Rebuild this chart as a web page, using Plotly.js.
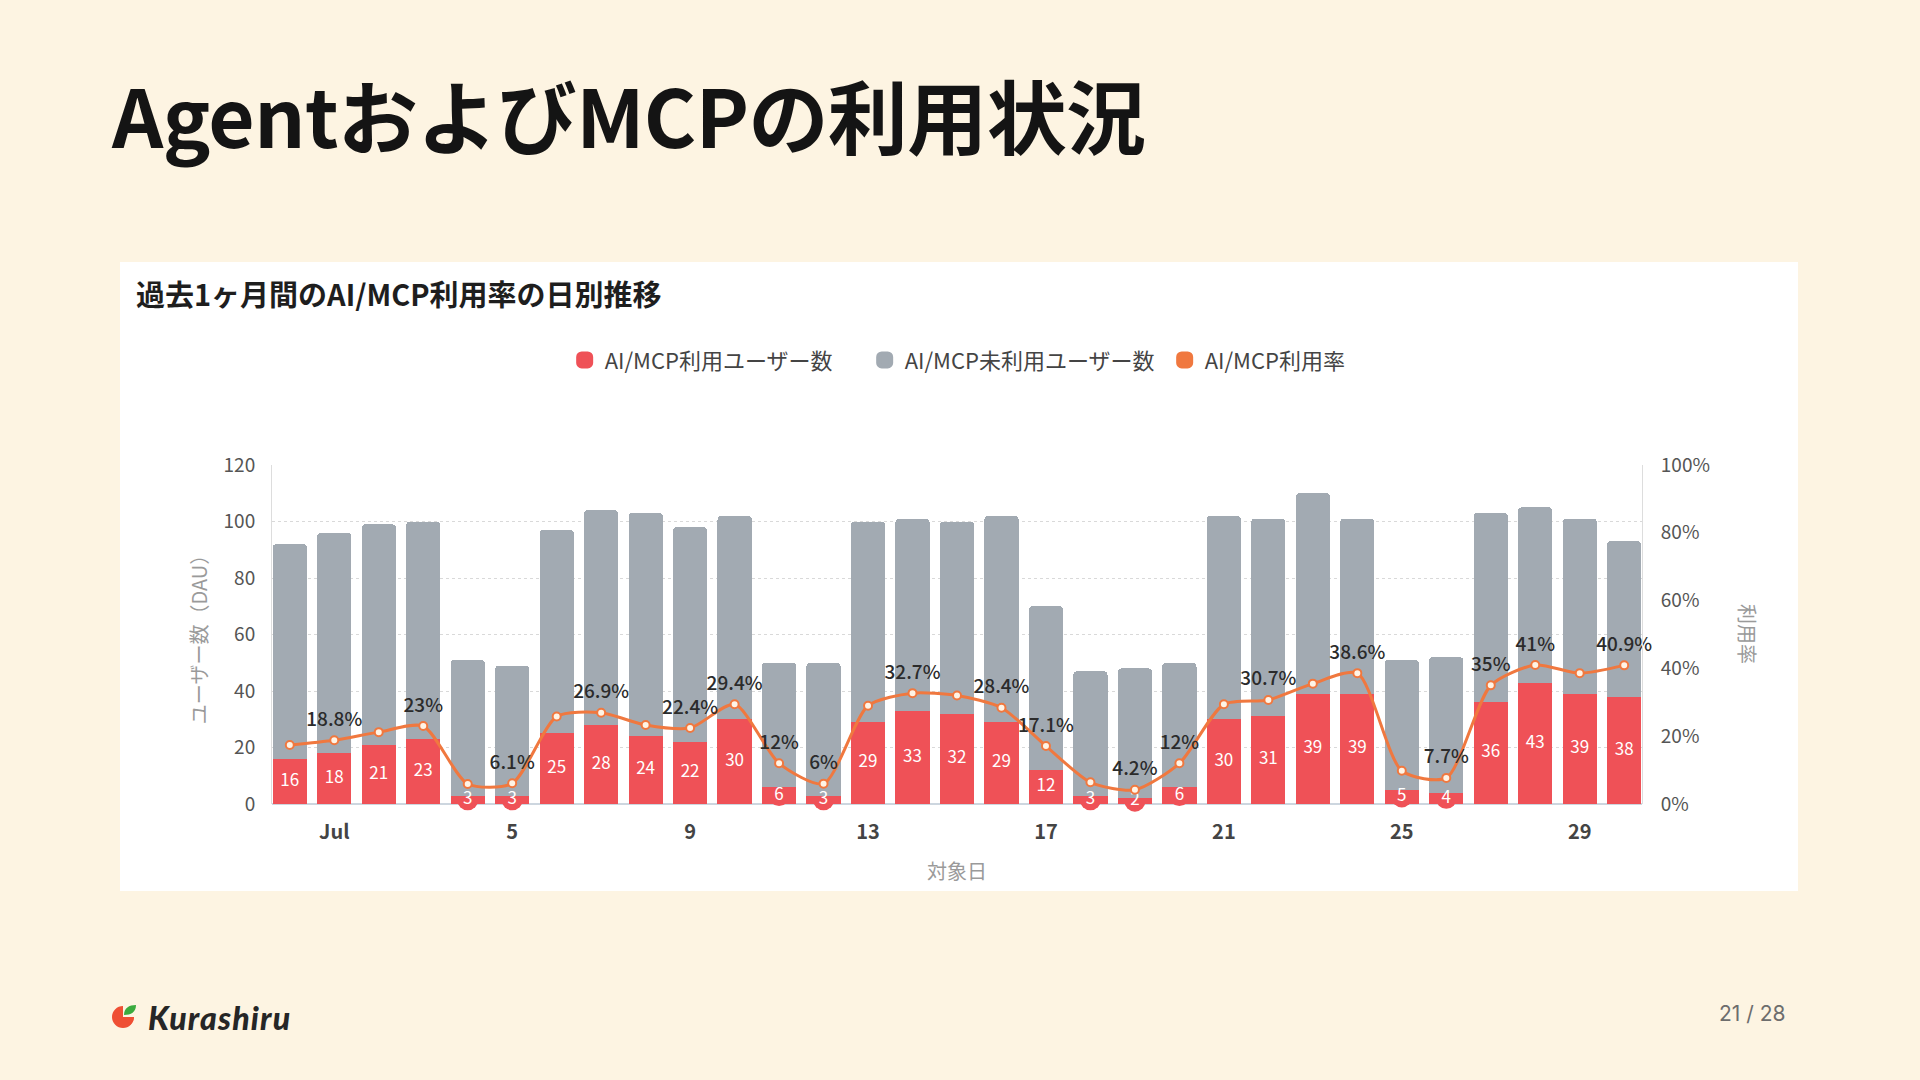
<!DOCTYPE html>
<html lang="ja">
<head>
<meta charset="utf-8">
<title>AgentおよびMCPの利用状況</title>
<script src="https://cdn.plot.ly/plotly-3.0.1.min.js"></script>
<style>
  html, body { margin: 0; padding: 0; }
  body { background: #fdf4e2; font-family: "Noto Sans CJK JP", "Noto Sans", sans-serif; }
  #slide { position: relative; width: 1920px; height: 1080px; overflow: hidden; background: #fdf4e2; }
  #heading {
    position: absolute; left: 112px; top: 73px; margin: 0;
    font-size: 80px; line-height: 80px; font-weight: 700; color: #141414;
    letter-spacing: -0.6px; white-space: nowrap;
  }
  #card { position: absolute; left: 120px; top: 262px; width: 1678px; height: 629px; background: #fff; }
  #chart { width: 1678px; height: 629px; }
  #logo { position: absolute; left: 110px; top: 1000px; height: 34px; display: flex; align-items: center; }
  #logo span {
    margin-left: 11px; font-family: Lato, sans-serif; font-weight: 900; font-style: italic;
    font-size: 32px; color: #262626; letter-spacing: 1.2px;
  }
  #page { position: absolute; left: 1719px; top: 1001px; font-family: Inter, sans-serif; font-size: 21px; color: #6d6d6d; }
</style>
</head>
<body>
<div id="slide">
  <h1 id="heading">AgentおよびMCPの利用状況</h1>
  <div id="card"><div id="chart"></div></div>
  <div id="logo">
    <svg width="27" height="28" viewBox="0 0 27 28">
      <path d="M13 3 A11 11 0 1 0 24 14 L13 14 Z" fill="#ef4f34"/>
      <path d="M13 14 L24 14 A11 11 0 0 1 20 22 Z" fill="#ef4f34" opacity="0.85"/>
      <path d="M14 12 C14 5 19 2 26 2 C26 9 21 12 14 12 Z" fill="#3bab3e"/>
    </svg>
    <span>Kurashiru</span>
  </div>
  <div id="page">21 / 28</div>
</div>
<script>
// 対象日 (6/30 〜 7/30)
const dates = [
  '2025-06-30', '2025-07-01', '2025-07-02', '2025-07-03', '2025-07-04', '2025-07-05',
  '2025-07-06', '2025-07-07', '2025-07-08', '2025-07-09', '2025-07-10', '2025-07-11',
  '2025-07-12', '2025-07-13', '2025-07-14', '2025-07-15', '2025-07-16', '2025-07-17',
  '2025-07-18', '2025-07-19', '2025-07-20', '2025-07-21', '2025-07-22', '2025-07-23',
  '2025-07-24', '2025-07-25', '2025-07-26', '2025-07-27', '2025-07-28', '2025-07-29',
  '2025-07-30'
]

// AI/MCP利用ユーザー数
const usedUsers = [16, 18, 21, 23, 3, 3, 25, 28, 24, 22, 30, 6, 3, 29, 33, 32,
  29, 12, 3, 2, 6, 30, 31, 39, 39, 5, 4, 36, 43, 39, 38]

// AI/MCP未利用ユーザー数
const unusedUsers = [76, 78, 78, 77, 48, 46, 72, 76, 79, 76, 72, 44, 47, 71, 68, 68,
  73, 58, 44, 46, 44, 72, 70, 71, 62, 46, 48, 67, 62, 62, 55]

// AI/MCP利用率 (%)
const usageRate = [17.4, 18.8, 21.2, 23, 5.9, 6.1, 25.8, 26.9, 23.3, 22.4, 29.4, 12, 6, 29,
  32.7, 32, 28.4, 17.1, 6.4, 4.2, 12, 29.4, 30.7, 35.5, 38.6, 9.8, 7.7, 35, 41, 38.6, 40.9]

// 表示されている利用率ラベル
const rateLabels = ['', '18.8%', '', '23%', '', '6.1%', '', '26.9%', '', '22.4%', '29.4%',
  '12%', '6%', '', '32.7%', '', '28.4%', '17.1%', '', '4.2%', '12%', '', '30.7%', '',
  '38.6%', '', '7.7%', '35%', '41%', '', '40.9%']

const xTickVals = ['2025-07-01', '2025-07-05', '2025-07-09', '2025-07-13',
  '2025-07-17', '2025-07-21', '2025-07-25', '2025-07-29']
const xTickText = ['Jul', '5', '9', '13', '17', '21', '25', '29']

const seriesNames = ['AI/MCP利用ユーザー数', 'AI/MCP未利用ユーザー数', 'AI/MCP利用率']

const RED = '#ef5157'
const GRAY = '#a2aab2'
const ORANGE = '#f0783f'
const seriesColors = [RED, GRAY, ORANGE]

let traces = [
  // 値ラベルの下地 (棒の下に描く)
  {
    type: 'scatter', mode: 'markers', x: dates, y: usedUsers.map(v => v / 2),
    xaxis: 'x', yaxis: 'y', marker: { color: RED, size: 21 },
    cliponaxis: false, showlegend: false, hoverinfo: 'skip'
  },
  {
    type: 'bar', name: seriesNames[0], x: dates, y: usedUsers, showlegend: false,
    xaxis: 'x', yaxis: 'y2', marker: { color: RED }, hoverinfo: 'skip'
  },
  {
    type: 'bar', name: seriesNames[1], x: dates, y: unusedUsers, showlegend: false,
    xaxis: 'x', yaxis: 'y2', marker: { color: GRAY }, hoverinfo: 'skip'
  },
  {
    type: 'scatter', mode: 'text', x: dates, y: usedUsers.map(v => v / 2),
    text: usedUsers.map(String), xaxis: 'x', yaxis: 'y2',
    textfont: { color: '#ffffff', size: 17, family: 'Noto Sans CJK JP' },
    cliponaxis: false, showlegend: false, hoverinfo: 'skip'
  },
  {
    type: 'scatter', mode: 'lines+markers', x: dates, y: usageRate,
    xaxis: 'x', yaxis: 'y3', name: seriesNames[2],
    line: { color: ORANGE, width: 3, shape: 'spline', smoothing: 0.7 },
    marker: { color: '#fff4e6', size: 8, line: { color: ORANGE, width: 2 } },
    cliponaxis: false, showlegend: false, hoverinfo: 'skip'
  },
  {
    type: 'scatter', mode: 'markers+text', x: dates, y: usageRate,
    xaxis: 'x', yaxis: 'y3', text: rateLabels, textposition: 'top center',
    textfont: { color: '#2b2b2b', size: 19, family: 'Noto Sans CJK JP', weight: 500 },
    marker: { size: 14, color: 'rgba(0,0,0,0)' },
    cliponaxis: false, showlegend: false, hoverinfo: 'skip'
  }
]

// 凡例用 (大きめの四角)
seriesNames.forEach((name, i) => {
  traces.push({
    type: 'bar', name: name, x: dates, y: dates.map(() => null),
    xaxis: 'x', yaxis: 'y2', hoverinfo: 'skip',
    marker: { color: seriesColors[i], line: { color: seriesColors[i], width: 6 } }
  })
})

let tickFont = { size: 19, color: '#555555', family: 'Noto Sans CJK JP' }
let titleFont = { size: 20, color: '#9a9a9a', family: 'Noto Sans CJK JP' }

let layout = {
  width: 1678,
  height: 629,
  paper_bgcolor: '#ffffff',
  plot_bgcolor: '#ffffff',
  margin: { l: 152, r: 156, t: 203, b: 87 },
  font: { family: 'Noto Sans CJK JP', color: '#444444' },
  title: {
    text: '過去1ヶ月間のAI/MCP利用率の日別推移',
    xref: 'container', x: 0.0095, xanchor: 'left',
    yref: 'container', y: 0.946, yanchor: 'middle',
    font: { size: 29, color: '#1e1e1e', weight: 700, family: 'Noto Sans CJK JP' }
  },
  showlegend: true,
  legend: {
    orientation: 'h', xref: 'container', x: 0.265, xanchor: 'left',
    yref: 'container', y: 0.844, yanchor: 'middle',
    font: { size: 22, color: '#444444', family: 'Noto Sans CJK JP' },
    entrywidth: 255, entrywidthmode: 'pixels',
    traceorder: 'normal', itemclick: false, itemdoubleclick: false
  },
  barmode: 'stack',
  bargap: 0.23,
  barcornerradius: 4,
  xaxis: {
    type: 'category',
    range: [-0.4, 30.4],
    tickvals: xTickVals,
    ticktext: xTickText,
    showgrid: false,
    showline: false,
    ticks: '',
    ticklabelstandoff: 14,
    tickfont: { size: 20, color: '#444444', family: 'Noto Sans CJK JP', weight: 600 },
    title: { text: '対象日', font: titleFont, standoff: 20 }
  },
  yaxis: {
    range: [0, 120],
    dtick: 20,
    showgrid: true,
    gridcolor: '#d9d9d9',
    griddash: 'dot',
    gridwidth: 1,
    zeroline: true,
    zerolinecolor: '#cdd6df',
    zerolinewidth: 2,
    showline: true,
    linecolor: '#dddddd',
    linewidth: 1,
    ticks: '',
    ticklabelstandoff: 12,
    tickfont: tickFont,
    title: { text: 'ユーザー数（DAU）', font: titleFont, standoff: 10 }
  },
  yaxis2: {
    overlaying: 'y',
    range: [0, 120],
    visible: false,
    showgrid: false,
    zeroline: false
  },
  yaxis3: {
    overlaying: 'y',
    side: 'right',
    range: [0, 100],
    dtick: 20,
    ticksuffix: '%',
    showgrid: false,
    zeroline: false,
    showline: true,
    linecolor: '#dddddd',
    linewidth: 1,
    ticks: '',
    ticklabelstandoff: 14,
    tickfont: tickFont
  },
  annotations: [
    {
      text: '利用率', xref: 'paper', yref: 'paper', x: 1.077, y: 0.5,
      xanchor: 'center', yanchor: 'middle', textangle: 90, showarrow: false,
      font: titleFont
    }
  ]
}

Plotly.newPlot('chart', traces, layout, { displayModeBar: false, staticPlot: true })
</script>
</body>
</html>
